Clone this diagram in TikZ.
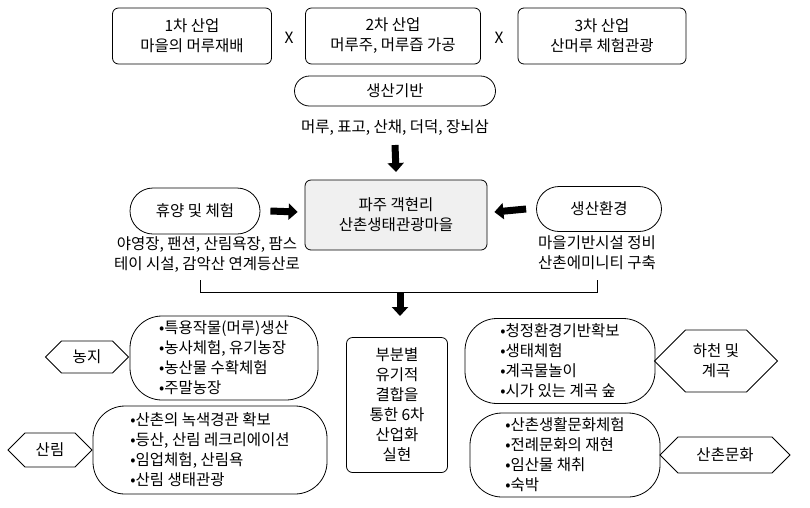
\documentclass[tikz,border=0pt]{standalone}
\usepackage{fontspec}
\setmainfont{Noto Sans CJK KR}
\usetikzlibrary{shapes,arrows.meta,positioning,calc}
\begin{document}
\begin{tikzpicture}[x=1pt,y=-1pt,
    box/.style={rectangle, draw, thick, rounded corners=6pt, align=center, inner sep=0pt},
    pill/.style={rounded rectangle, draw, thick, align=center, inner sep=0pt},
    tag/.style={signal, signal to=west and east, draw, thick, align=center, inner sep=0pt},
    list/.style={rectangle, rounded corners=32pt, draw, thick, align=left, inner sep=0pt},
    bigarrow/.style={-{Triangle[length=9pt,width=16pt]}, line width=7pt},
    every node/.style={font=\fontsize{15.5}{20}\selectfont}
]
    \useasboundingbox (0,0) rectangle (810,507);
    % Top layer: three industries
    \node [box, minimum width=159pt, minimum height=56pt] (ind1) at (192,36) {1차 산업\\마을의 머루재배};
    \node [box, minimum width=175pt, minimum height=56pt] (ind2) at (393,36) {2차 산업\\머루주, 머루즙 가공};
    \node [box, minimum width=168pt, minimum height=56pt] (ind3) at (602,36) {3차 산업\\산머루 체험관광};
    \node (x1) at (289,38) {X};
    \node (x2) at (499,38) {X};
    % Production base
    \node [pill, minimum width=201pt, minimum height=30pt] (base) at (395,91) {생산기반};
    \node (basetxt) at (395,128) {머루, 표고, 산채, 더덕, 장뇌삼};
    % Centre village
    \node [box, fill=gray!12, minimum width=182pt, minimum height=70pt] (village) at (396,215) {파주 객현리\\산촌생태관광마을};
    \node [pill, minimum width=130pt, minimum height=46pt] (rest) at (195,211) {휴양 및 체험};
    \node [pill, minimum width=125pt, minimum height=45pt] (env) at (599,209) {생산환경};
    \node [align=center] (resttxt) at (207,255) {야영장, 팬션, 산림욕장, 팜스\\테이 시설, 감악산 연계등산로};
    \node [align=center] (envtxt) at (597,253) {마을기반시설 정비\\산촌에미니티 구축};
    \draw [bigarrow] (basetxt.south |- 0,145) -- (village.north |- 0,172);
    \draw [bigarrow] (rest.east) ++(10,0) -- ($(village.west)+(-7,-3)$);
    \draw [bigarrow] ($(env.west)+(-10,0)$) -- ($(village.east)+(7,-3)$);
    % Bracket
    \coordinate (bl) at (200,280);
    \coordinate (br) at (597,280);
    \draw [thick] (bl) -- (200,292) -- (597,292) -- (br);
    \draw [bigarrow] (400,292) -- (400,316);
    % Centre result
    \node [box, minimum width=101pt, minimum height=135pt] (result) at (397,405) {부분별\\유기적\\결합을\\통한 6차\\산업화\\실현};
    % Farmland
    \node [list, minimum width=188pt, minimum height=84pt] (farm) at (224,358) {•특용작물(머루)생산\\•농사체험, 유기농장\\•농산물 수확체험\\•주말농장};
    \node [tag, minimum width=83pt, minimum height=32pt] (farmtag) at (87,357) {농지};
    % Forest
    \node [list, minimum width=234pt, minimum height=88pt] (forest) at (210,450) {•산촌의 녹색경관 확보\\•등산, 산림 레크리에이션\\•임업체험, 산림욕\\•산림 생태관광};
    \node [tag, minimum width=84pt, minimum height=34pt] (foresttag) at (50,450) {산림};
    % Stream
    \node [list, minimum width=190pt, minimum height=85pt] (stream) at (560,361) {•청정환경기반확보\\•생태체험\\•계곡물놀이\\•시가 있는 계곡 숲};
    \node [tag, minimum width=123pt, minimum height=62pt] (streamtag) at (716,361) {하천 및\\계곡};
    % Mountain village culture
    \node [list, minimum width=190pt, minimum height=84pt] (culture) at (565,455) {•산촌생활문화체험\\•전례문화의 재현\\•임산물 채취\\•숙박};
    \node [tag, minimum width=130pt, minimum height=36pt] (culturetag) at (725,455) {산촌문화};
\end{tikzpicture}
\end{document}
